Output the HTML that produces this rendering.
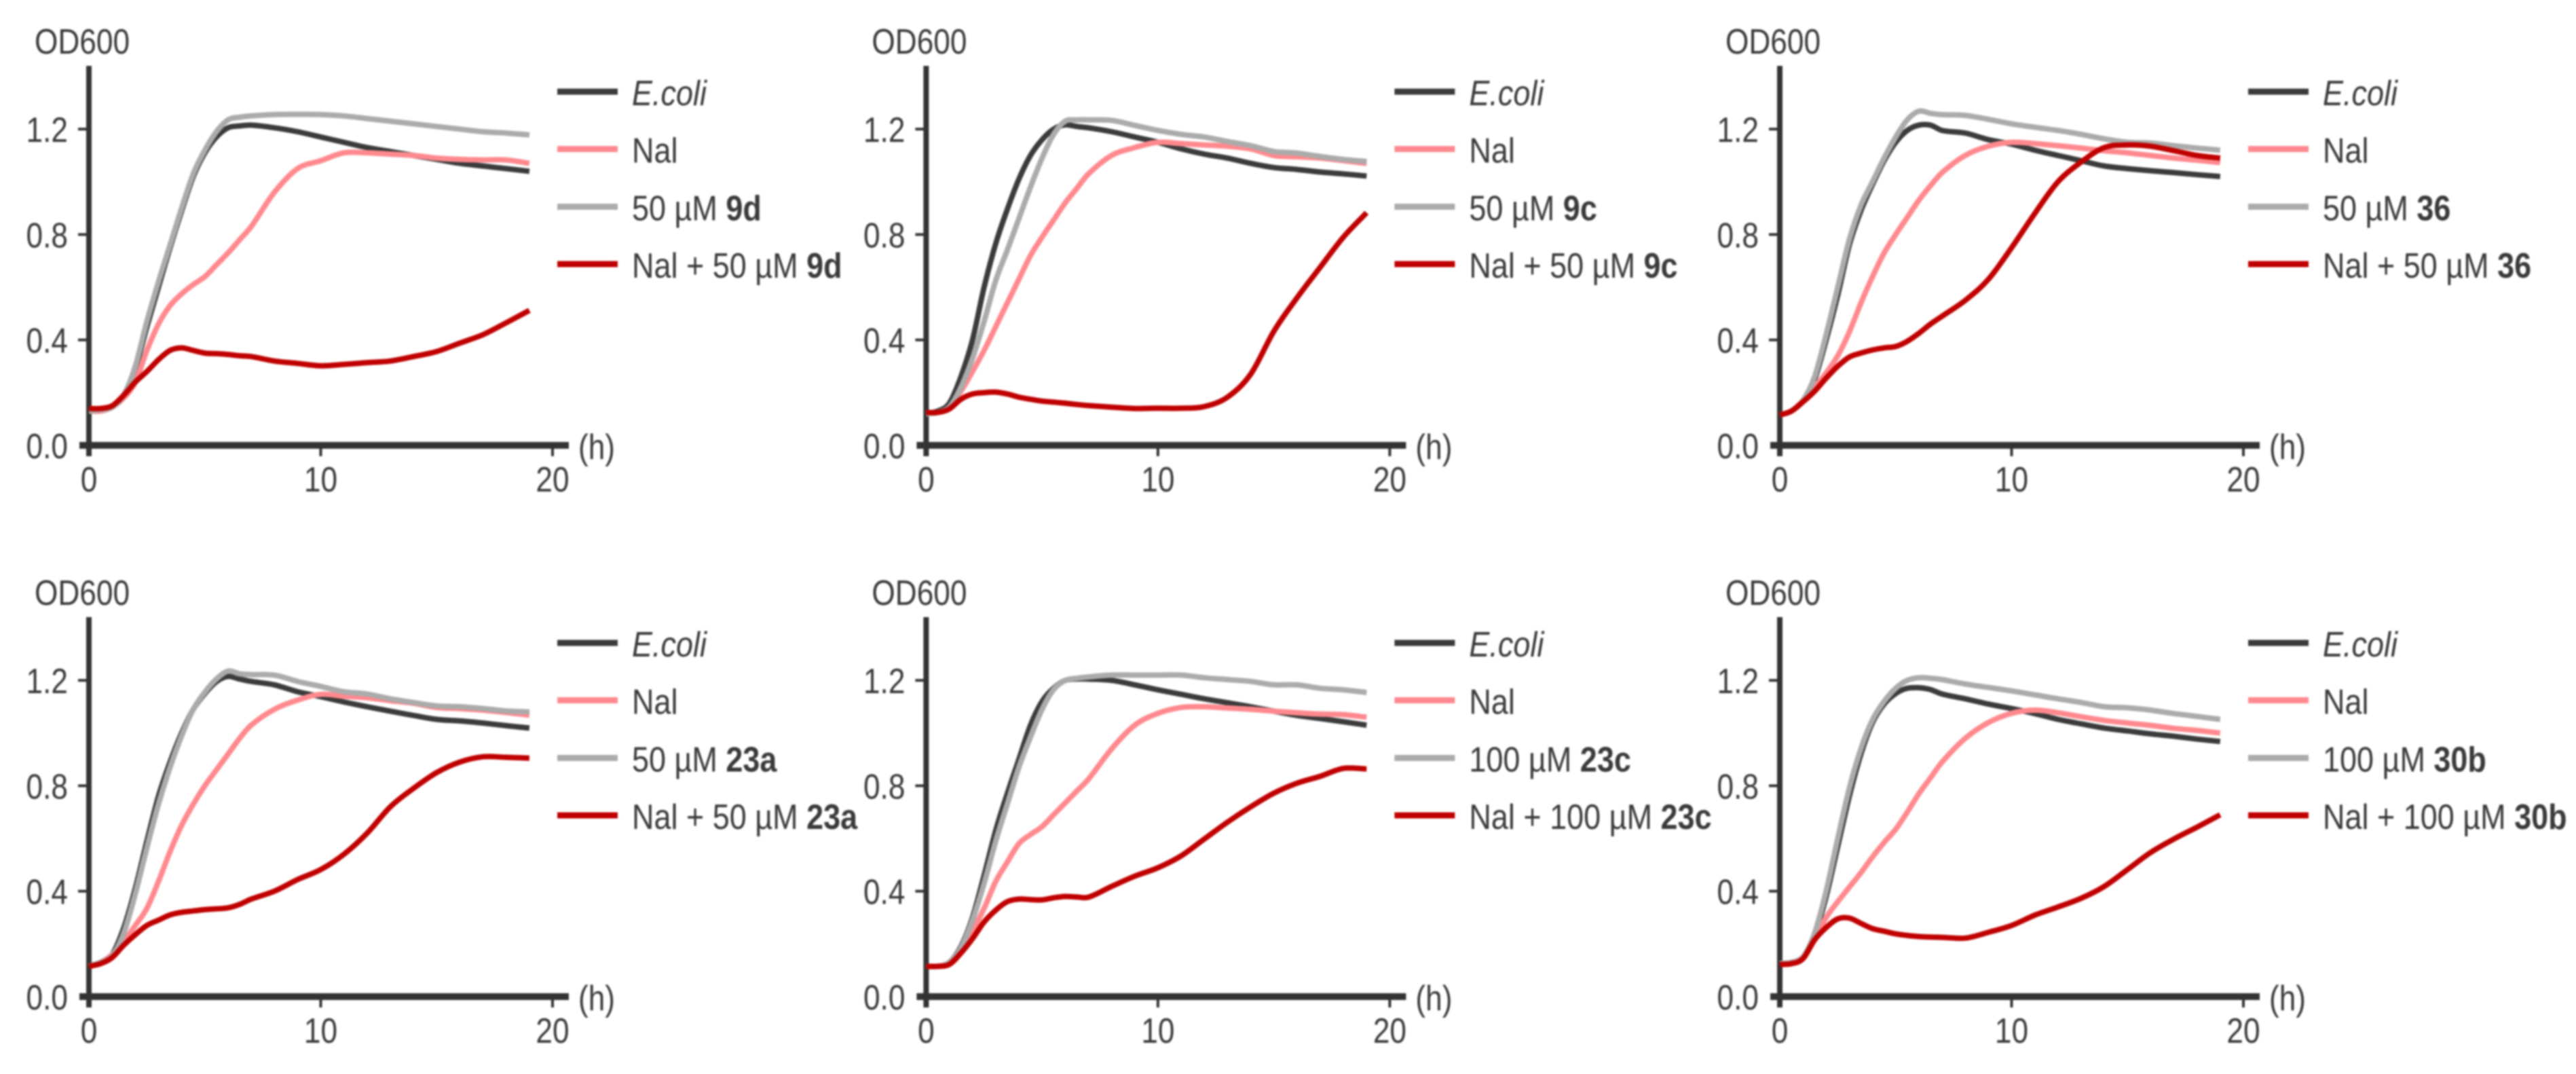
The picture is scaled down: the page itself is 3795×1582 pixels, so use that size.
<!DOCTYPE html>
<html lang="en">
<head>
<meta charset="utf-8">
<title>OD600 growth curves</title>
<style>
html,body{margin:0;padding:0;background:#fff;width:3795px;height:1582px;overflow:hidden}
svg{display:block;filter:blur(1.4px)}
text{font-family:"Liberation Sans",sans-serif;font-size:52px;fill:#3a3a3a}
</style>
</head>
<body>
<svg id="chart" xmlns="http://www.w3.org/2000/svg" width="3795" height="1582" viewBox="0 0 3795 1582"></svg>
<script>
const hours = [0,.5,1,1.5,2,2.5,3,3.5,4,4.5,5,5.5,6,6.5,7,8,9,10,11,12,13,14,15,16,17,18,19];
const xTicks = [0,10,20];
const yTicks = [0,.4,.8,1.2];
const yLabels = ["0.0","0.4","0.8","1.2"];

const ecoli9d = [.13,.135,.145,.19,.29,.45,.60,.75,.89,1.02,1.11,1.17,1.205,1.212,1.215,1.205,1.19,1.17,1.15,1.13,1.115,1.10,1.085,1.07,1.06,1.05,1.04];
const nal9d = [.13,.13,.145,.18,.24,.36,.46,.53,.575,.61,.64,.685,.73,.78,.83,.96,1.05,1.08,1.11,1.11,1.105,1.10,1.09,1.085,1.083,1.083,1.07];
const cpd9d = [.13,.135,.145,.19,.30,.47,.62,.76,.90,1.03,1.12,1.19,1.235,1.245,1.25,1.255,1.256,1.255,1.25,1.24,1.23,1.22,1.21,1.2,1.19,1.185,1.178];
const combo9d = [.14,.14,.15,.19,.24,.28,.325,.36,.37,.36,.35,.348,.345,.34,.337,.32,.311,.302,.307,.314,.32,.337,.356,.388,.42,.465,.512];

const ecoli9c = [.12,.13,.16,.26,.40,.6,.765,.895,1.01,1.10,1.16,1.2,1.216,1.21,1.205,1.19,1.17,1.15,1.125,1.105,1.09,1.07,1.054,1.047,1.037,1.03,1.022];
const nal9c = [.12,.125,.145,.205,.28,.36,.45,.54,.63,.72,.79,.855,.92,.975,1.03,1.10,1.13,1.15,1.145,1.14,1.135,1.125,1.10,1.095,1.09,1.08,1.07];
const cpd9c = [.12,.125,.145,.22,.33,.47,.625,.74,.86,.98,1.09,1.18,1.23,1.235,1.235,1.233,1.214,1.195,1.18,1.17,1.153,1.137,1.115,1.109,1.096,1.085,1.077];
const combo9c = [.125,.125,.138,.175,.195,.2,.202,.195,.183,.175,.168,.164,.16,.155,.151,.145,.14,.141,.141,.147,.183,.27,.433,.56,.676,.79,.883];

const ecoli36 = [.115,.13,.17,.25,.40,.57,.76,.89,.99,1.08,1.15,1.195,1.215,1.215,1.195,1.185,1.16,1.143,1.12,1.10,1.08,1.06,1.05,1.042,1.035,1.027,1.02];
const nal36 = [.115,.13,.17,.22,.275,.34,.43,.54,.64,.73,.80,.865,.93,.985,1.035,1.10,1.135,1.15,1.145,1.137,1.128,1.118,1.11,1.10,1.09,1.082,1.073];
const cpd36 = [.115,.13,.17,.26,.42,.60,.78,.91,1.0,1.09,1.17,1.235,1.268,1.26,1.255,1.252,1.237,1.22,1.207,1.195,1.18,1.163,1.15,1.147,1.137,1.128,1.12];
const combo36 = [.115,.13,.165,.205,.255,.30,.335,.35,.362,.37,.375,.395,.425,.46,.49,.55,.63,.75,.88,1.0,1.075,1.13,1.14,1.135,1.118,1.10,1.09];

const ecoli23a = [.115,.13,.16,.26,.41,.59,.76,.89,1.0,1.09,1.15,1.195,1.215,1.205,1.196,1.183,1.157,1.138,1.118,1.10,1.083,1.067,1.052,1.046,1.038,1.028,1.019];
const nal23a = [.115,.13,.16,.21,.27,.335,.437,.55,.65,.73,.80,.86,.92,.98,1.03,1.09,1.125,1.147,1.14,1.134,1.123,1.113,1.097,1.093,1.087,1.078,1.068];
const cpd23a = [.115,.13,.155,.24,.39,.565,.73,.87,.99,1.09,1.155,1.205,1.235,1.225,1.222,1.22,1.196,1.177,1.157,1.148,1.13,1.116,1.103,1.10,1.093,1.084,1.08];
const combo23a = [.115,.125,.148,.195,.235,.27,.29,.31,.32,.325,.33,.333,.337,.35,.37,.40,.444,.482,.54,.62,.72,.79,.85,.89,.91,.908,.905];

const ecoli23c = [.115,.115,.13,.19,.30,.46,.63,.77,.90,1.03,1.12,1.17,1.2,1.205,1.205,1.2,1.183,1.164,1.147,1.13,1.115,1.10,1.083,1.067,1.055,1.043,1.03];
const nal23c = [.115,.115,.13,.18,.25,.335,.437,.51,.58,.615,.645,.69,.735,.78,.825,.94,1.03,1.075,1.097,1.10,1.095,1.09,1.083,1.077,1.072,1.07,1.06];
const cpd23c = [.115,.115,.13,.185,.29,.43,.59,.73,.87,.985,1.09,1.165,1.2,1.208,1.213,1.22,1.22,1.22,1.22,1.21,1.203,1.196,1.183,1.183,1.17,1.164,1.154];
const combo23c = [.115,.115,.122,.165,.22,.283,.328,.36,.37,.368,.367,.375,.38,.378,.377,.418,.457,.489,.534,.598,.662,.72,.772,.81,.836,.866,.864];

const ecoli30b = [.125,.13,.15,.23,.38,.57,.76,.92,1.04,1.11,1.15,1.17,1.172,1.165,1.148,1.13,1.11,1.093,1.074,1.052,1.035,1.019,1.008,.997,.988,.977,.968];
const nal30b = [.125,.13,.15,.215,.30,.36,.415,.47,.53,.585,.635,.70,.77,.83,.89,.98,1.04,1.075,1.087,1.077,1.062,1.048,1.038,1.029,1.018,1.01,1.0];
const cpd30b = [.125,.13,.15,.24,.40,.60,.79,.94,1.05,1.12,1.17,1.2,1.21,1.208,1.203,1.186,1.173,1.16,1.145,1.13,1.116,1.10,1.096,1.087,1.074,1.063,1.052];
const combo30b = [.122,.125,.144,.215,.262,.295,.298,.278,.258,.248,.238,.232,.228,.226,.225,.222,.244,.27,.309,.34,.373,.418,.482,.547,.598,.643,.69];

const compounds = ["9d","9c","36","23a","23c","30b"];
const doses = ["50","50","50","50","100","100"];
const seriesKeys = ["ecoli","nal","compound","combination"];
const seriesColors = ["#3b3b3b","#ff898e","#ababab","#c00000"];
const panelValues = [
  [ecoli9d,nal9d,cpd9d,combo9d],
  [ecoli9c,nal9c,cpd9c,combo9c],
  [ecoli36,nal36,cpd36,combo36],
  [ecoli23a,nal23a,cpd23a,combo23a],
  [ecoli23c,nal23c,cpd23c,combo23c],
  [ecoli30b,nal30b,cpd30b,combo30b]
];

const NS = "http://www.w3.org/2000/svg";
const svg = document.getElementById("chart");
const panelX = [131,1364.4,2622];
const panelY = [656,1468];
const PX_PER_HOUR = 34.15;
const PX_PER_OD = 388.2;
const AXIS = "#333333";

function rect(parent,x,y,w,h,name){
  const el = document.createElementNS(NS,"rect");
  el.setAttribute("x",x);
  el.setAttribute("y",y);
  el.setAttribute("width",w);
  el.setAttribute("height",h);
  el.setAttribute("fill",AXIS);
  
  
  parent.appendChild(el);
  return el;
}
function label(parent,x,y,anchor,name,squeeze){
  const el = document.createElementNS(NS,"text");
  el.setAttribute("transform","translate("+x+" "+y+") scale("+squeeze+" 1)");
  el.setAttribute("text-anchor",anchor);
  
  
  parent.appendChild(el);
  return el;
}
function run(parent,str,style){
  const t = document.createElementNS(NS,"tspan");
  t.textContent = str;
  if(style==="bold") t.setAttribute("font-weight","700");
  if(style==="italic") t.setAttribute("font-style","italic");
  parent.appendChild(t);
}
function curvePath(sx,sy,vals){
  const xs = hours.map(sx);
  const ys = vals.map(sy);
  const n = xs.length;
  const slope = xs.map((_,i)=>{
    const a = Math.max(i-1,0), b = Math.min(i+1,n-1);
    return (ys[b]-ys[a])/(xs[b]-xs[a]);
  });
  let d = "M"+xs[0].toFixed(1)+" "+ys[0].toFixed(1);
  for(let i=0;i<n-1;i++){
    const h = (xs[i+1]-xs[i])/3;
    d += "C"+(xs[i]+h).toFixed(1)+" "+(ys[i]+slope[i]*h).toFixed(1)+" "+(xs[i+1]-h).toFixed(1)+" "+(ys[i+1]-slope[i+1]*h).toFixed(1)+" "+xs[i+1].toFixed(1)+" "+ys[i+1].toFixed(1);
  }
  return d;
}

compounds.forEach((cpd,p)=>{
  const x0 = panelX[p%3];
  const y0 = panelY[Math.floor(p/3)];
  const sx = h => x0+h*PX_PER_HOUR;
  const sy = v => y0-v*PX_PER_OD;

  const g = document.createElementNS(NS,"g");
  
  
  svg.appendChild(g);

  rect(g,x0-4,y0-559,8,575,"y-axis");
  rect(g,x0-14,y0-5,721,10,"x-axis");
  xTicks.forEach(t=>{
    if(t>0) rect(g,sx(t)-2,y0,4,16,"x-tick-"+t);
    const tl = label(g,sx(t),y0+68,"middle","x-tick-label-"+t,0.85);
    tl.textContent = t;
  });
  yTicks.forEach((t,i)=>{
    if(t>0) rect(g,x0-16,sy(t)-2,14,4,"y-tick-"+yLabels[i]);
    const tl = label(g,x0-31,sy(t)+19,"end","y-tick-label-"+yLabels[i],0.85);
    tl.textContent = yLabels[i];
  });
  const yTitle = label(g,x0-80,y0-577,"start","y-axis-title",0.85);
  yTitle.textContent = "OD600";
  const xTitle = label(g,x0+721,y0+20,"start","x-axis-unit",0.85);
  xTitle.textContent = "(h)";

  panelValues[p].forEach((vals,s)=>{
    const path = document.createElementNS(NS,"path");
    path.setAttribute("d",curvePath(sx,sy,vals));
    path.setAttribute("fill","none");
    path.setAttribute("stroke",seriesColors[s]);
    path.setAttribute("stroke-width","8");
    path.setAttribute("stroke-linejoin","round");
    
    
    g.appendChild(path);
  });

  const legendY = [y0-521,y0-436.5,y0-351.5,y0-267];
  seriesKeys.forEach((key,s)=>{
    const swatch = document.createElementNS(NS,"rect");
    swatch.setAttribute("x",x0+690);
    swatch.setAttribute("y",legendY[s]-4.5);
    swatch.setAttribute("width",89);
    swatch.setAttribute("height",9);
    swatch.setAttribute("fill",seriesColors[s]);
    
    
    g.appendChild(swatch);
    const t = label(g,x0+800,legendY[s]+20,"start","legend-label-"+key,0.865);
    if(s===0){ run(t,"E.coli","italic"); }
    if(s===1){ run(t,"Nal"); }
    if(s===2){ run(t,doses[p]+" µM "); run(t,cpd,"bold"); }
    if(s===3){ run(t,"Nal + "+doses[p]+" µM "); run(t,cpd,"bold"); }
  });
});
</script>
</body>
</html>
